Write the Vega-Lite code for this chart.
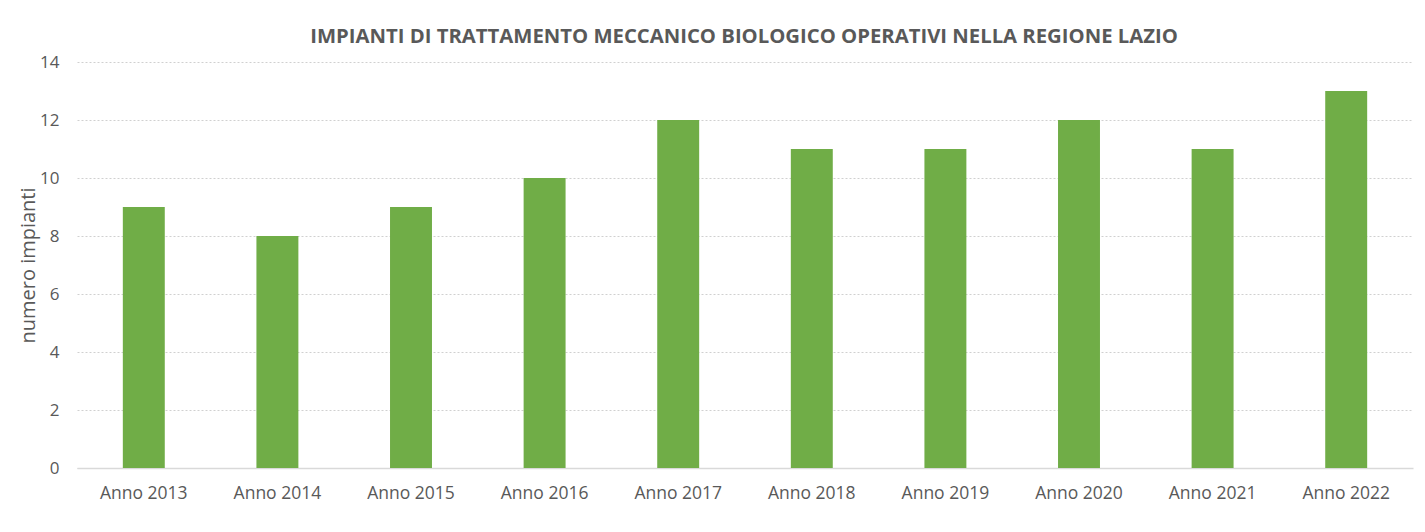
{
  "$schema": "https://vega.github.io/schema/vega-lite/v6.json",
  "autosize": "none",
  "width": 1336,
  "height": 406,
  "padding": {"left": 77, "top": 62, "right": 12, "bottom": 64},
  "background": "white",
  "title": {
    "text": "IMPIANTI DI TRATTAMENTO MECCANICO BIOLOGICO OPERATIVI NELLA REGIONE LAZIO",
    "font": "Open Sans",
    "fontSize": 20.3,
    "fontWeight": "bold",
    "color": "#595959",
    "anchor": "middle",
    "offset": 6,
    "dx": -1
  },
  "data": {
    "values": [
      {"anno": "Anno 2013", "impianti": 9},
      {"anno": "Anno 2014", "impianti": 8},
      {"anno": "Anno 2015", "impianti": 9},
      {"anno": "Anno 2016", "impianti": 10},
      {"anno": "Anno 2017", "impianti": 12},
      {"anno": "Anno 2018", "impianti": 11},
      {"anno": "Anno 2019", "impianti": 11},
      {"anno": "Anno 2020", "impianti": 12},
      {"anno": "Anno 2021", "impianti": 11},
      {"anno": "Anno 2022", "impianti": 13}
    ]
  },
  "mark": {"type": "bar", "color": "#70AD47"},
  "encoding": {
    "x": {
      "field": "anno",
      "type": "nominal",
      "sort": null,
      "scale": {"paddingInner": 0.686, "paddingOuter": 0.343},
      "axis": {
        "title": null,
        "labelAngle": 0,
        "labelFont": "Open Sans",
        "labelFontSize": 17.5,
        "labelColor": "#595959",
        "labelPadding": 16,
        "ticks": false,
        "domainColor": "#d9d9d9",
        "domainWidth": 1.5,
        "grid": false
      }
    },
    "y": {
      "field": "impianti",
      "type": "quantitative",
      "scale": {"domain": [0, 14], "nice": false},
      "axis": {
        "title": "numero impianti",
        "titleFont": "Open Sans",
        "titleFontSize": 20,
        "titleFontWeight": "normal",
        "titleColor": "#595959",
        "titlePadding": 1,
        "values": [0, 2, 4, 6, 8, 10, 12, 14],
        "labelFont": "Open Sans",
        "labelFontSize": 17,
        "labelColor": "#595959",
        "labelPadding": 18,
        "ticks": false,
        "domain": false,
        "grid": true,
        "gridColor": "#d0d0d0",
        "gridDash": [2, 2],
        "gridWidth": 1
      }
    }
  },
  "config": {"view": {"stroke": null}}
}
